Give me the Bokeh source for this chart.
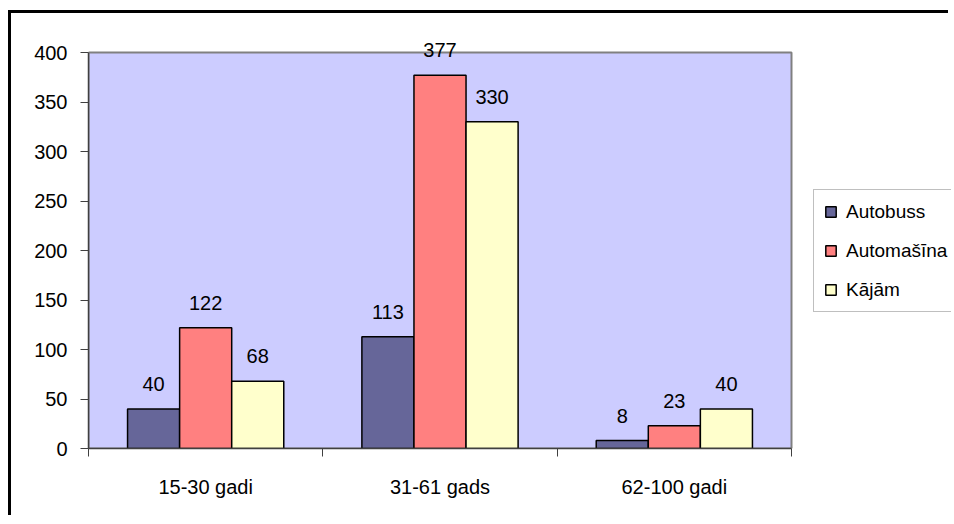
from bokeh.plotting import figure
from bokeh.models import (ColumnDataSource, Range1d, FixedTicker, Legend, LegendItem, LabelSet)
from bokeh.core.properties import value
from bokeh.embed import file_html
from bokeh.resources import INLINE

categories = ["15-30 gadi", "31-61 gads", "62-100 gadi"]
series = ["Autobuss", "Automašīna", "Kājām"]
autobuss = [40, 113, 8]
automasina = [122, 377, 23]
kajam = [68, 330, 40]
colors = ["#666699", "#FF8080", "#FFFFCC"]
y_ticks = [0, 50, 100, 150, 200, 250, 300, 350, 400]

FONT = "Liberation Sans"
FS = "20px"

W, H = 940, 505
LEFT, BOTTOM = 77, 70
AREA_W, AREA_H = 703, 396          # pixel size of the plot area
frame_w = W - LEFT
frame_h = H - BOTTOM
n = len(categories)
y_top = y_ticks[-1]

p = figure(width=W, height=H, output_backend="svg", toolbar_location=None,
           x_range=Range1d(0, n * frame_w / AREA_W),
           y_range=Range1d(0, y_top * frame_h / AREA_H),
           min_border_left=LEFT, min_border_right=0, min_border_top=0, min_border_bottom=BOTTOM,
           background_fill_color="white", border_fill_color="white",
           styles={"border-left": "3px solid black", "border-top": "3px solid black",
                   "margin-top": "10px", "margin-left": "8px"})
p.outline_line_color = None
p.grid.visible = False

# plot area
p.quad(left=0, right=n, bottom=0, top=y_top, fill_color="#CCCCFF",
       line_color="#808080", line_width=2)

bar_w = 1 / 4.5
offsets = [-bar_w, 0, bar_w]
vals = [autobuss, automasina, kajam]
renderers = []
for s, v, c, off in zip(series, vals, colors, offsets):
    src = ColumnDataSource(dict(x=[i + 0.5 + off for i in range(n)], top=v,
                                lab=[str(t) for t in v]))
    r = p.vbar(x="x", top="top", width=bar_w, source=src, fill_color=c,
               line_color="black", line_width=1.5)
    labels = LabelSet(x="x", y="top", text="lab", source=src, text_align="center",
                      text_baseline="alphabetic", y_offset=18, text_font=value(FONT),
                      text_font_size=value(FS), text_color="black")
    p.add_layout(labels)
    renderers.append(r)

# x axis
xa = p.xaxis[0]
xa.bounds = (0, n)
xa.ticker = FixedTicker(ticks=[i + 0.5 for i in range(n)], minor_ticks=list(range(n + 1)))
xa.major_label_overrides = {i + 0.5: c for i, c in enumerate(categories)}
xa.major_tick_line_color = None
xa.major_tick_out = 0
xa.major_tick_in = 0
xa.minor_tick_out = 8
xa.minor_tick_in = 0
xa.minor_tick_line_color = "#404040"
xa.axis_line_color = "#404040"
xa.axis_line_width = 1.5
xa.major_label_standoff = 19
xa.major_label_text_font = FONT
xa.major_label_text_font_size = FS
xa.major_label_text_color = "black"

ya = p.yaxis[0]
ya.bounds = (0, y_top)
ya.ticker = FixedTicker(ticks=y_ticks, minor_ticks=[])
ya.major_tick_out = 8
ya.major_tick_in = 0
ya.major_tick_line_color = "#404040"
ya.axis_line_color = "#404040"
ya.axis_line_width = 1.5
ya.major_label_standoff = 13
ya.major_label_text_font = FONT
ya.major_label_text_font_size = FS
ya.major_label_text_color = "black"

legend = Legend(items=[LegendItem(label=s, renderers=[r]) for s, r in zip(series, renderers)],
                location=(725, 136), orientation="vertical",
                border_line_color="#808080", border_line_width=1,
                background_fill_color="white", background_fill_alpha=1,
                padding=10, spacing=16, margin=0,
                glyph_width=13, glyph_height=13, label_height=23, label_standoff=9,
                label_text_font=FONT, label_text_font_size="19px", label_text_color="black")
p.add_layout(legend, "center")

open("out.html", "w").write(file_html(p, INLINE))
